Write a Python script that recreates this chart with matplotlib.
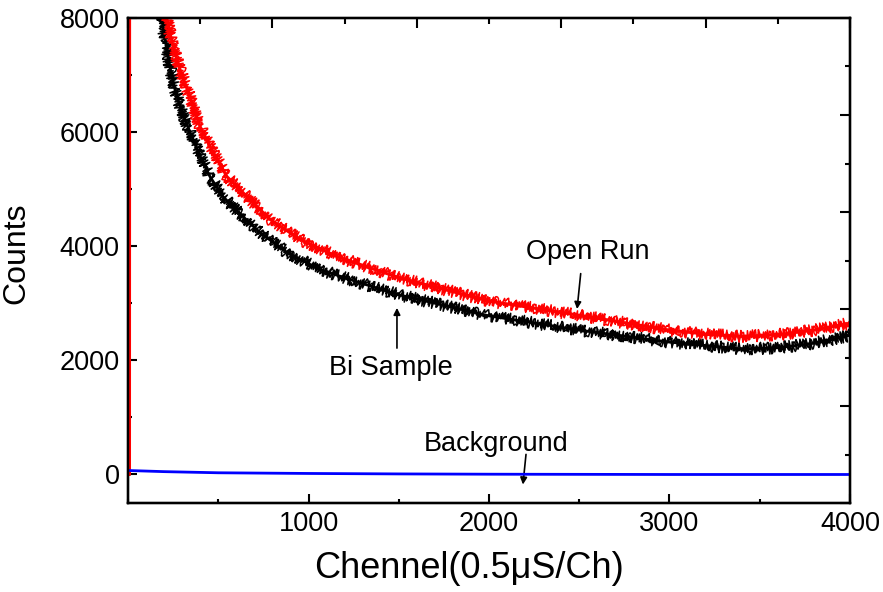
import matplotlib
matplotlib.use("Agg")
import matplotlib.pyplot as plt
from matplotlib.ticker import MultipleLocator, FixedLocator

# --- values (channel, counts) ---
bi_channel = [0, 8, 10, 60, 120, 187, 223, 260, 288, 343, 399, 454, 526, 637,
              731, 881, 1064, 1285, 1500, 2000, 2500, 3000, 3200, 3400, 3600,
              3800, 4000]
bi_counts = [0, 0, 26000, 15000, 10500, 8000, 7270, 6750, 6450, 6000, 5580,
             5220, 4870, 4520, 4240, 3890, 3590, 3360, 3150, 2780, 2530, 2320,
             2260, 2200, 2220, 2300, 2440]

open_channel = [0, 8, 10, 60, 120, 214, 249, 288, 343, 399, 454, 548, 659, 787,
                953, 1158, 1324, 1500, 2000, 2500, 3000, 3200, 3400, 3600,
                3800, 4000]
open_counts = [0, 0, 30000, 17000, 12500, 8000, 7500, 7100, 6620, 6100, 5750,
               5220, 4870, 4470, 4120, 3820, 3640, 3450, 3040, 2790, 2530, 2460,
               2420, 2450, 2530, 2650]

bg_channel = [0, 200, 500, 1000, 1500, 2000, 3000, 4000]
bg_counts = [70, 50, 30, 18, 10, 5, 0, 0]

x_ticks = [1000, 2000, 3000, 4000]
y_ticks = [0, 2000, 4000, 6000, 8000]

plt.rcParams["font.family"] = ["Liberation Sans", "DejaVu Sans"]

fig = plt.figure(figsize=(8.83, 5.92), dpi=100)
ax = fig.add_axes([0.145, 0.1503, 0.8176, 0.8193])

# thin line for the start spike, then wiggled lines for the counting noise
ax.plot(bi_channel, bi_counts, color="black", lw=2, zorder=2)
ax.plot(open_channel, open_counts, color="red", lw=2.2, zorder=3)
for sk in [(6, 1.0, 6), (4, 0.7, 9)]:
    ln, = ax.plot(bi_channel[5:], bi_counts[5:], color="black", lw=1.1, zorder=2)
    ln.set_sketch_params(*sk)
for sk in [(6, 1.0, 6), (4, 0.7, 9)]:
    ln, = ax.plot(open_channel[5:], open_counts[5:], color="red", lw=1.1, zorder=3)
    ln.set_sketch_params(*sk)
ax.plot(bg_channel, bg_counts, color="#0000ff", lw=2, zorder=4)

ax.set_xlim(0, 4000)
ax.set_ylim(-500, 8000)
ax.xaxis.set_major_locator(FixedLocator(x_ticks))
ax.xaxis.set_minor_locator(MultipleLocator(500))
ax.yaxis.set_major_locator(FixedLocator(y_ticks))
ax.yaxis.set_minor_locator(MultipleLocator(1000))
ax.tick_params(which="both", direction="in", width=1.5, labelsize=19.5, pad=6,
               top=False, right=False)
ax.tick_params(which="major", length=6.5)
ax.tick_params(which="minor", length=3)
for sp in ax.spines.values():
    sp.set_linewidth(1.6)

ax.set_xlabel("Chennel(0.5\u03bcS/Ch)", fontsize=26, va="center")
ax.xaxis.set_label_coords(0.472, -0.135)
ax.set_ylabel("Counts", fontsize=23, va="center", ha="center")
ax.yaxis.set_label_coords(-0.155, 0.515)

# top / right axes carry their own 10-division ticks
ax_r = ax.twinx()
ax_r.set_ylim(0, 10)
ax_r.yaxis.set_major_locator(MultipleLocator(2))
ax_r.yaxis.set_minor_locator(MultipleLocator(1))
ax_r.tick_params(which="both", direction="in", width=1.5, labelright=False)
ax_r.tick_params(which="major", length=7)
ax_r.tick_params(which="minor", length=3.5)
ax_t = ax.twiny()
ax_t.set_xlim(0, 10)
ax_t.xaxis.set_major_locator(MultipleLocator(2))
ax_t.xaxis.set_minor_locator(MultipleLocator(1))
ax_t.tick_params(which="both", direction="in", width=1.5, labeltop=False)
ax_t.tick_params(which="major", length=7)
ax_t.tick_params(which="minor", length=4)
for a in (ax_r, ax_t):
    for sp in a.spines.values():
        sp.set_linewidth(1.6)

arrow = dict(arrowstyle="-|>", color="black", lw=1.2, mutation_scale=10,
             shrinkA=0, shrinkB=0)
ax.text(2548, 3900, "Open Run", fontsize=19.5, ha="center", va="center")
ax.annotate("", xy=(2488, 2900), xytext=(2508, 3520), arrowprops=arrow)
ax.text(1454, 1860, "Bi Sample", fontsize=19.5, ha="center", va="center")
ax.annotate("", xy=(1490, 2920), xytext=(1490, 2215), arrowprops=arrow)
ax.text(2039, 540, "Background", fontsize=19.5, ha="center", va="center")
ax.annotate("", xy=(2188, -176), xytext=(2205, 352), arrowprops=arrow)

fig.savefig("out.png", dpi=100)
